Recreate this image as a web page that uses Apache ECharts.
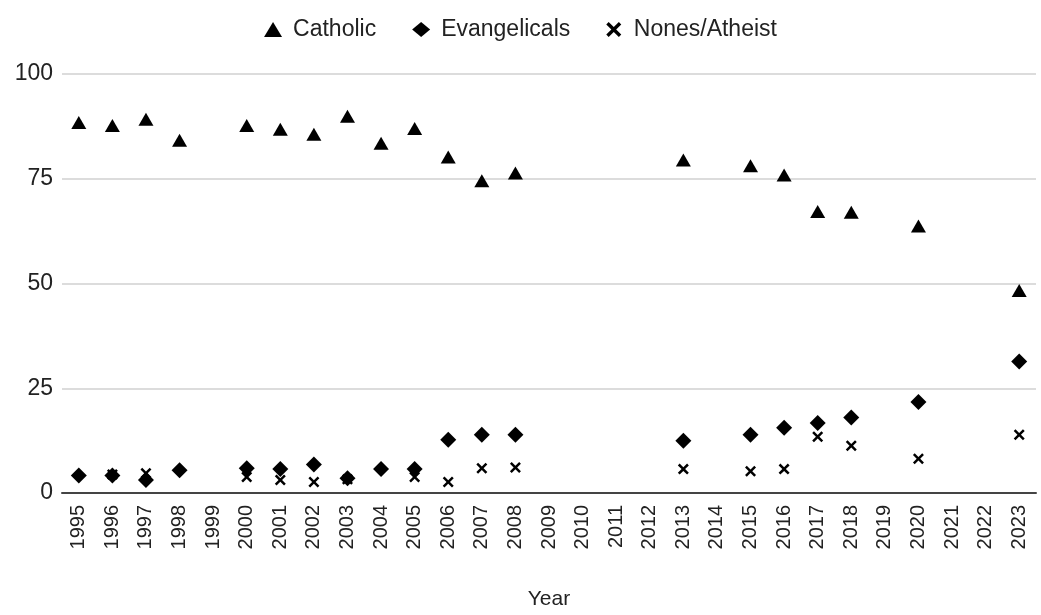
<!DOCTYPE html>
<html>
<head>
<meta charset="utf-8">
<script src="https://cdn.jsdelivr.net/npm/echarts@6/dist/echarts.min.js"></script>
<style>
html,body{margin:0;padding:0;background:#fff;}
#chart{width:1041px;height:615px;}
</style>
</head>
<body>
<div id="chart"></div>
<script>
const years = ['1995','1996','1997','1998','1999','2000','2001','2002','2003','2004','2005','2006','2007','2008','2009','2010','2011','2012','2013','2014','2015','2016','2017','2018','2019','2020','2021','2022','2023'];
const catholic = [88.4,87.7,89.2,84.2,null,87.7,86.8,85.6,89.9,83.5,87.0,80.2,74.5,76.4,null,null,null,null,79.5,null,78.1,75.9,67.2,67.0,null,63.7,null,null,48.3];
const evangelicals = [4.2,4.2,3.1,5.4,null,5.9,5.7,6.8,3.5,5.7,5.7,12.7,13.9,13.9,null,null,null,null,12.5,null,13.9,15.6,16.7,18.0,null,21.7,null,null,31.4];
const nones = [null,4.4,4.7,null,null,3.8,3.1,2.6,3.3,null,3.8,2.6,5.9,6.1,null,null,null,null,5.7,null,5.2,5.7,13.4,11.3,null,8.2,null,null,13.9];
const yTicks = [0,25,50,75,100];

const crossPath = 'path://M0,1.6 L1.6,0 L5,3.4 L8.4,0 L10,1.6 L6.6,5 L10,8.4 L8.4,10 L5,6.6 L1.6,10 L0,8.4 L3.4,5 Z';
const font = 'Liberation Sans, Arial, sans-serif';

const chart = echarts.init(document.getElementById('chart'));
chart.setOption({
  animation: false,
  backgroundColor: '#fff',
  textStyle: {fontFamily: font},
  legend: {
    top: 13,
    left: 'center',
    itemWidth: 18,
    itemHeight: 15,
    itemGap: 36,
    textStyle: {fontSize: 23, color: '#222', fontFamily: font, padding: [0,0,0,6]},
    data: [
      {name: 'Catholic', icon: 'triangle'},
      {name: 'Evangelicals', icon: 'diamond'},
      {name: 'Nones/Atheist', icon: crossPath}
    ]
  },
  grid: {left: 62, right: 5, top: 74, bottom: 117, containLabel: false},
  xAxis: {
    type: 'category',
    data: years,
    boundaryGap: true,
    name: 'Year',
    nameLocation: 'middle',
    nameGap: 96,
    nameTextStyle: {fontSize: 21, color: '#222', fontFamily: font},
    axisLine: {lineStyle: {color: '#444', width: 2}},
    axisTick: {show: false},
    axisLabel: {rotate: 90, interval: 0, fontSize: 20, color: '#222', margin: 12, fontFamily: font}
  },
  yAxis: {
    type: 'value',
    min: 0, max: 100, interval: 25,
    axisLine: {show: false},
    axisTick: {show: false},
    axisLabel: {fontSize: 23, color: '#222', margin: 9, fontFamily: font,
      formatter: v => yTicks.includes(v) ? String(v) : ''},
    splitLine: {lineStyle: {color: '#d0d0d0', width: 1.5}}
  },
  series: [
    {name: 'Catholic', type: 'scatter', symbol: 'triangle', symbolSize: [15,13], data: catholic, itemStyle: {color: '#000', opacity: 1}},
    {name: 'Evangelicals', type: 'scatter', symbol: 'diamond', symbolSize: 16, data: evangelicals, itemStyle: {color: '#000', opacity: 1}},
    {name: 'Nones/Atheist', type: 'scatter', symbol: crossPath, symbolSize: 11, data: nones, itemStyle: {color: '#000', opacity: 1}, z: 1}
  ]
});
</script>
</body>
</html>
